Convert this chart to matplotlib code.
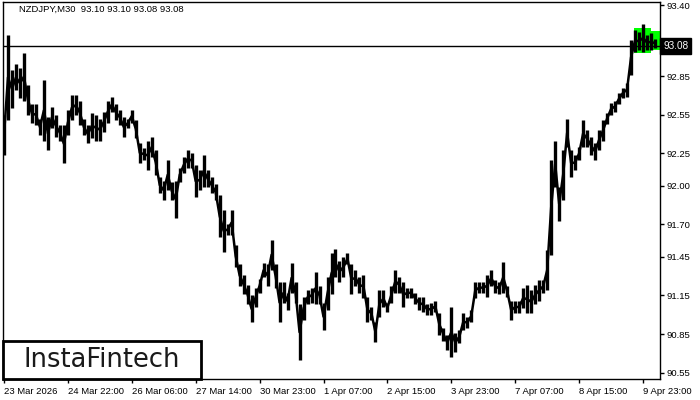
import numpy as np
import matplotlib
matplotlib.use('Agg')
from matplotlib import pyplot as plt
from matplotlib.patches import Rectangle

# high / low every 4 bars (2 hours)
highs = [92.55, 93.17, 92.90, 92.94, 92.91, 93.03, 92.78, 92.63, 92.63, 92.52,
         92.82, 92.53, 92.61, 92.55, 92.47, 92.47, 92.59, 92.70, 92.70, 92.66,
         92.52, 92.47, 92.56, 92.55, 92.52, 92.57, 92.66, 92.69, 92.63, 92.59,
         92.53, 92.52, 92.59, 92.51, 92.33, 92.29, 92.35, 92.38, 92.28, 92.07,
         92.04, 92.20, 92.03, 92.04, 92.14, 92.22, 92.28, 92.25, 92.16, 92.12,
         92.24, 92.12, 92.07, 92.01, 91.93, 91.81, 91.70, 91.81, 91.54, 91.39,
         91.31, 91.23, 91.15, 91.21, 91.28, 91.40, 91.39, 91.58, 91.39, 91.25,
         91.25, 91.17, 91.40, 91.25, 91.08, 91.14, 91.19, 91.21, 91.33, 91.22,
         91.09, 91.29, 91.48, 91.51, 91.42, 91.45, 91.48, 91.39, 91.35, 91.29,
         91.31, 91.14, 91.06, 90.94, 91.19, 91.19, 91.09, 91.22, 91.35, 91.29,
         91.25, 91.21, 91.21, 91.17, 91.14, 91.14, 91.08, 91.09, 91.11, 91.01,
         90.90, 90.84, 91.06, 90.86, 90.88, 91.01, 90.98, 91.04, 91.25, 91.25,
         91.25, 91.31, 91.35, 91.27, 91.25, 91.41, 91.22, 91.11, 91.11, 91.11,
         91.21, 91.23, 91.19, 91.23, 91.27, 91.27, 91.50, 92.20, 92.35, 91.99,
         92.28, 92.52, 92.28, 92.24, 92.30, 92.51, 92.43, 92.38, 92.33, 92.43,
         92.51, 92.56, 92.64, 92.66, 92.72, 92.76, 92.80, 93.13, 93.21, 93.19,
         93.25, 93.17, 93.18, 93.14]
lows = [92.24, 92.51, 92.60, 92.74, 92.68, 92.66, 92.55, 92.49, 92.47, 92.39,
        92.35, 92.28, 92.45, 92.38, 92.35, 92.18, 92.39, 92.51, 92.55, 92.47,
        92.39, 92.33, 92.37, 92.35, 92.35, 92.42, 92.49, 92.57, 92.51, 92.47,
        92.38, 92.45, 92.49, 92.37, 92.18, 92.20, 92.12, 92.22, 92.08, 91.94,
        91.89, 91.97, 91.89, 91.75, 92.03, 92.10, 92.14, 92.14, 91.91, 91.97,
        91.99, 91.99, 91.94, 91.89, 91.60, 91.49, 91.62, 91.62, 91.37, 91.22,
        91.16, 91.08, 90.94, 91.06, 91.17, 91.29, 91.22, 91.35, 91.21, 90.94,
        91.09, 91.04, 91.17, 91.09, 90.65, 90.96, 91.08, 91.09, 91.08, 91.08,
        90.88, 91.04, 91.16, 91.29, 91.25, 91.29, 91.39, 91.16, 91.22, 91.17,
        91.13, 90.94, 90.96, 90.79, 90.98, 91.06, 91.02, 91.09, 91.17, 91.17,
        91.06, 91.13, 91.13, 91.08, 91.04, 91.02, 91.00, 91.00, 91.02, 90.84,
        90.80, 90.73, 90.67, 90.71, 90.78, 90.88, 90.90, 90.94, 91.13, 91.17,
        91.17, 91.14, 91.22, 91.17, 91.16, 91.17, 91.14, 90.96, 91.01, 91.01,
        91.05, 91.01, 91.01, 91.08, 91.11, 91.17, 91.19, 91.46, 91.99, 91.73,
        91.89, 92.30, 92.07, 92.12, 92.20, 92.30, 92.30, 92.24, 92.20, 92.28,
        92.35, 92.48, 92.55, 92.57, 92.63, 92.68, 92.69, 92.86, 93.04, 93.05,
        93.04, 93.05, 93.05, 93.07]

x_ticks = [0, 64, 128, 192, 256, 320, 384, 448, 512, 576, 640]
x_labels = ['23 Mar 2026', '24 Mar 22:00', '26 Mar 06:00', '27 Mar 14:00',
            '30 Mar 23:00', '1 Apr 07:00', '2 Apr 15:00', '3 Apr 23:00',
            '7 Apr 07:00', '8 Apr 15:00', '9 Apr 23:00']
y_ticks = [90.55, 90.85, 91.15, 91.45, 91.70, 92.00, 92.25, 92.55, 92.85, 93.40]
last_price = 93.08

FONT = 'Liberation Sans'
FS = 6.8

bars = np.arange(len(highs)) * 4
hi = np.array(highs)
lo = np.array(lows)

fig = plt.figure(figsize=(7, 4), dpi=100)
ax = fig.add_axes([3 / 700, 1 - 379 / 400, 657 / 700, 377 / 400])
ax.set_xlim(-1, 657)
ax.set_ylim(90.502, 93.424)

# green pattern boxes
ax.add_patch(Rectangle((631, 93.03), 17, 0.19, color='#00ff00', lw=0, zorder=1))
ax.add_patch(Rectangle((645, 93.05), 12, 0.15, color='#00ff00', lw=0, zorder=1))

ax.vlines(bars, lo, hi, color='black', lw=2.4, zorder=2)
ax.plot(bars, (hi + lo) / 2, color='black', lw=1.8, zorder=2)

ax.axhline(last_price, color='black', lw=1, zorder=3)

for s in ax.spines.values():
    s.set_linewidth(1)
ax.yaxis.tick_right()
ax.set_yticks(y_ticks)
ax.set_yticklabels(['%.2f' % v for v in y_ticks], family=FONT)
ax.set_xticks(x_ticks)
ax.set_xticklabels(x_labels, ha='left', family=FONT)
ax.tick_params(axis='both', labelsize=FS, length=3, width=1, direction='out', pad=2)
ax.tick_params(axis='x', pad=3)

# price box on the right scale
ax.text(1.005, last_price, '%.2f' % last_price, transform=ax.get_yaxis_transform(),
        fontsize=7.2, family=FONT, color='white', va='center', ha='left',
        bbox=dict(boxstyle='square,pad=0.3', fc='black', ec='black'))

ax.text(15, 93.35, 'NZDJPY,M30  93.10 93.10 93.08 93.08', fontsize=FS,
        family=FONT, color='black')

# logo
fig.patches.append(Rectangle((3 / 700, 1 - 379 / 400), 198 / 700, 38 / 400,
                             transform=fig.transFigure, fc='white', ec='black',
                             lw=2, zorder=5))
fig.text(102 / 700, 1 - 360 / 400, 'InstaFintech', fontsize=18.5,
         family='DejaVu Sans', ha='center', va='center', color='#1a1a1a', zorder=6)

fig.savefig('out.png', dpi=100)
